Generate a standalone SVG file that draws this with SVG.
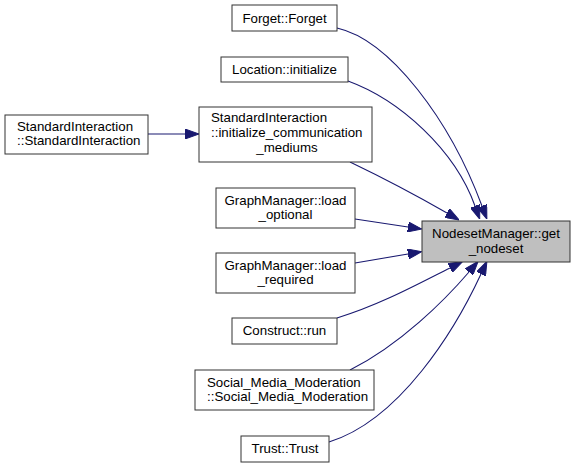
<svg xmlns="http://www.w3.org/2000/svg" width="575" height="468" viewBox="0 0 575 468">
<style>
.n rect{fill:#ffffff;stroke:#333333;stroke-width:1}
.n.t rect{fill:#bfbfbf}
text{font-family:"Liberation Sans",Arial,sans-serif;font-size:13.3px;fill:#000000}
.c{text-anchor:middle}
.e path{fill:none;stroke:#191970;stroke-width:1.1;marker-end:url(#ah)}
</style>
<defs>
<marker id="ah" viewBox="0 0 14 10" refX="0" refY="5" markerWidth="14" markerHeight="10" markerUnits="userSpaceOnUse" orient="auto">
<path d="M0,0 L14,5 L0,10 z" fill="#191970" stroke="#191970"/>
</marker>
</defs>
<rect x="0" y="0" width="575" height="468" fill="#ffffff"/>
<g class="e" id="edges">
<path d="M148,134 L185,134"/>
<path d="M337,28 C390,40 450,120 482,206"/>
<path d="M348,81 C400,100 455,150 475,206"/>
<path d="M350,162 Q400,186 447,213"/>
<path d="M355,219 L408,227"/>
<path d="M355,263 L408,254"/>
<path d="M337,318 C380,305 420,283 450,268"/>
<path d="M350,370 C400,345 445,300 469,272"/>
<path d="M329,442 C400,420 455,330 481,274"/>
</g>
<g class="n t" id="node_target">
<rect x="422" y="221" width="148" height="41"/>
<text class="c" x="496" y="238">NodesetManager::get</text>
<text class="c" x="496" y="253">_nodeset</text>
</g>
<g class="n" id="node_forget">
<rect x="232" y="5" width="105" height="26"/>
<text class="c" x="284.5" y="23">Forget::Forget</text>
</g>
<g class="n" id="node_location">
<rect x="221" y="57" width="127" height="25"/>
<text class="c" x="284.5" y="74">Location::initialize</text>
</g>
<g class="n" id="node_initcomm">
<rect x="199" y="107" width="173" height="55"/>
<text x="211" y="122">StandardInteraction</text>
<text x="211" y="137">::initialize_communication</text>
<text class="c" x="287" y="152">_mediums</text>
</g>
<g class="n" id="node_si">
<rect x="5" y="115" width="143" height="39"/>
<text x="17" y="131">StandardInteraction</text>
<text x="17" y="145">::StandardInteraction</text>
</g>
<g class="n" id="node_loadopt">
<rect x="216" y="188" width="139" height="40"/>
<text class="c" x="285.5" y="205">GraphManager::load</text>
<text class="c" x="285.5" y="219">_optional</text>
</g>
<g class="n" id="node_loadreq">
<rect x="216" y="253" width="139" height="40"/>
<text class="c" x="285.5" y="270">GraphManager::load</text>
<text class="c" x="285.5" y="284">_required</text>
</g>
<g class="n" id="node_construct">
<rect x="232" y="318" width="105" height="26"/>
<text class="c" x="284.5" y="335">Construct::run</text>
</g>
<g class="n" id="node_social">
<rect x="195" y="370" width="179" height="40"/>
<text x="207" y="387">Social_Media_Moderation</text>
<text x="207" y="401">::Social_Media_Moderation</text>
</g>
<g class="n" id="node_trust">
<rect x="241" y="436" width="88" height="26"/>
<text class="c" x="285" y="453">Trust::Trust</text>
</g>
</svg>
